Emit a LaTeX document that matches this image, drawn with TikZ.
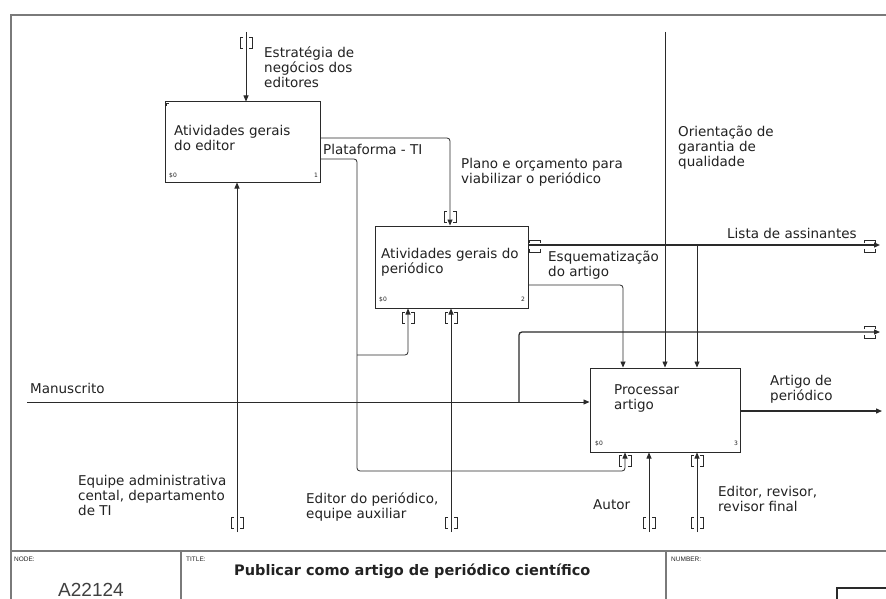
\documentclass[tikz,border=0pt]{standalone}
\usepackage{fontspec}
\setmainfont{DejaVu Sans}
\newfontfamily\arialf{Liberation Sans}
\usetikzlibrary{arrows.meta}
\definecolor{linec}{HTML}{2A2A2A}
\definecolor{framec}{HTML}{7A7A7A}
\definecolor{txt}{HTML}{222222}
\tikzset{
  conn/.style={draw=linec, line width=0.8pt, rounded corners=3pt},
  thick conn/.style={conn, line width=1.3pt},
  arr/.style={-{Triangle[length=6pt,width=5pt]}},
  box/.style={draw=linec, line width=1pt, fill=white, inner sep=0pt},
  lbl/.style={anchor=base west, align=left, inner sep=0pt, text=txt,
    font=\fontsize{13.5}{15}\selectfont},
  tiny/.style={anchor=base west, inner sep=0pt, text=txt,
    font=\fontsize{6}{7}\selectfont},
  tv/.pic={\draw[linec,line width=0.8pt] (-3,-5.5)--(-6,-5.5)--(-6,5.5)--(-3,5.5)
           (3,-5.5)--(6,-5.5)--(6,5.5)--(3,5.5);},
  th/.pic={\draw[linec,line width=0.8pt] (-5.5,-3)--(-5.5,-6)--(5.5,-6)--(5.5,-3)
           (-5.5,3)--(-5.5,6)--(5.5,6)--(5.5,3);}
}
\begin{document}
\begin{tikzpicture}[x=1pt,y=-1pt]
\useasboundingbox (0,0) rectangle (886,599);
\fill[white] (0,0) rectangle (886,599);

% frame and title block
\draw[framec, line width=1.5pt] (886,15) -- (11,15) -- (11,599);
\draw[framec, line width=1.5pt] (11,551) -- (886,551);
\draw[framec, line width=1.2pt] (181,551) -- (181,599);
\draw[framec, line width=1.2pt] (666,551) -- (666,599);
\draw[linec, line width=1.2pt] (886,588) -- (837,588) -- (837,599);

\node[anchor=base west, inner sep=0pt, font=\arialf\fontsize{6.5}{7}\selectfont, text=txt] (nodelbl) at (14,561) {NODE:};
\node[anchor=base west, inner sep=0pt, font=\arialf\fontsize{6.5}{7}\selectfont, text=txt] (titlelbl) at (186,561) {TITLE:};
\node[anchor=base west, inner sep=0pt, font=\arialf\fontsize{6.5}{7}\selectfont, text=txt] (numlbl) at (671,561) {NUMBER:};
\node[anchor=base west, inner sep=0pt, font=\arialf\fontsize{19}{20}\selectfont, text=black!75] (nodeid) at (58,596) {A22124};
\node[anchor=base west, inner sep=0pt, font=\bfseries\fontsize{14.5}{16}\selectfont, text=txt] (title) at (234,575) {Publicar como artigo de periódico científico};

% boxes
\node[box, minimum width=155pt, minimum height=80pt] (b1) at (242.5,142) {};
\node[box, minimum width=153pt, minimum height=82pt] (b2) at (451.5,267) {};
\node[box, minimum width=150pt, minimum height=84pt] (b3) at (665,410) {};
\draw[linec, line width=0.6pt] (166,106) -- (166,103) -- (169,103);

\node[lbl] (b1t) at (174,150) {Atividades gerais\\do editor};
\node[tiny] (b1c) at (169,178) {\$0};
\node[tiny] (b1n) at (314,178) {1};
\node[lbl] (b2t) at (381,273) {Atividades gerais do\\periódico};
\node[tiny] (b2c) at (379,301) {\$0};
\node[tiny] (b2n) at (521,301) {2};
\node[lbl] (b3t) at (614,409) {Processar\\artigo};
\node[tiny] (b3c) at (595,445) {\$0};
\node[tiny] (b3n) at (734,445) {3};

% free end coordinates
\coordinate (estr) at (246,32);
\coordinate (equipe) at (237,532);
\coordinate (plano) at (450,138);
\coordinate (plat) at (357,159);
\coordinate (platlow) at (357,471);
\coordinate (platbr) at (357,355);
\coordinate (mb2a) at (408,355);
\coordinate (edper) at (451,532);
\coordinate (lista) at (880,245);
\coordinate (qbr) at (697,245);
\coordinate (orient) at (665,32);
\coordinate (esq) at (623,285);
\coordinate (manus) at (27,402);
\coordinate (mbr) at (519,402);
\coordinate (out2) at (880,332);
\coordinate (artigo) at (882,411);
\coordinate (autor) at (649,532);
\coordinate (edrev) at (697,532);
\coordinate (m3a) at (625,471);

% connectors
\draw[conn,arr] (estr) -- (estr |- b1.north);
\pic at (246,43) {tv};

\draw[conn,arr] (equipe) -- (equipe |- b1.south);
\pic at (237,523) {tv};

\draw[conn,arr] (b1.east |- plano) -| (plano |- b2.north);
\pic at (450,217) {tv};

\draw[conn,arr] (b1.east |- plat) -| (platlow) -| (m3a |- b3.south);
\pic at (625,461) {tv};

\draw[conn,arr] (platbr) -| (mb2a |- b2.south);
\pic at (408,318) {tv};

\draw[conn,arr] (edper) -- (edper |- b2.south);
\pic at (451,318) {tv};
\pic at (451,523) {tv};

\draw[thick conn,arr] (b2.east |- lista) -- (lista);
\pic at (535,246) {th};
\pic at (870,246) {th};

\draw[conn,arr] (qbr) -- (qbr |- b3.north);
\draw[conn,arr] (orient) -- (orient |- b3.north);
\draw[conn,arr] (b2.east |- esq) -| (esq |- b3.north);

\draw[conn,arr] (manus) -- (b3.west |- manus);
\draw[thick conn,arr] (mbr) |- (out2);
\pic at (870,332) {th};

\draw[thick conn,arr] (b3.east |- artigo) -- (artigo);

\draw[conn,arr] (autor) -- (autor |- b3.south);
\pic at (649,523) {tv};
\draw[conn,arr] (edrev) -- (edrev |- b3.south);
\pic at (697,461) {tv};
\pic at (697,523) {tv};

% labels
\node[lbl] (l1) at (264,88) {Estratégia de\\negócios dos\\editores};
\node[lbl] (l2) at (323,154) {Plataforma - TI};
\node[lbl] (l3) at (461,183) {Plano e orçamento para\\viabilizar o periódico};
\node[lbl] (l4) at (678,166) {Orientação de\\garantia de\\qualidade};
\node[lbl] (l5) at (727,238) {Lista de assinantes};
\node[lbl] (l6) at (548,276) {Esquematização\\do artigo};
\node[lbl] (l7) at (30,393) {Manuscrito};
\node[lbl] (l8) at (770,400) {Artigo de\\periódico};
\node[lbl] (l9) at (78,515) {Equipe administrativa\\cental, departamento\\de TI};
\node[lbl] (l10) at (306,518) {Editor do periódico,\\equipe auxiliar};
\node[lbl] (l11) at (593,509) {Autor};
\node[lbl] (l12) at (718,511) {Editor, revisor,\\revisor final};
\end{tikzpicture}
\end{document}
